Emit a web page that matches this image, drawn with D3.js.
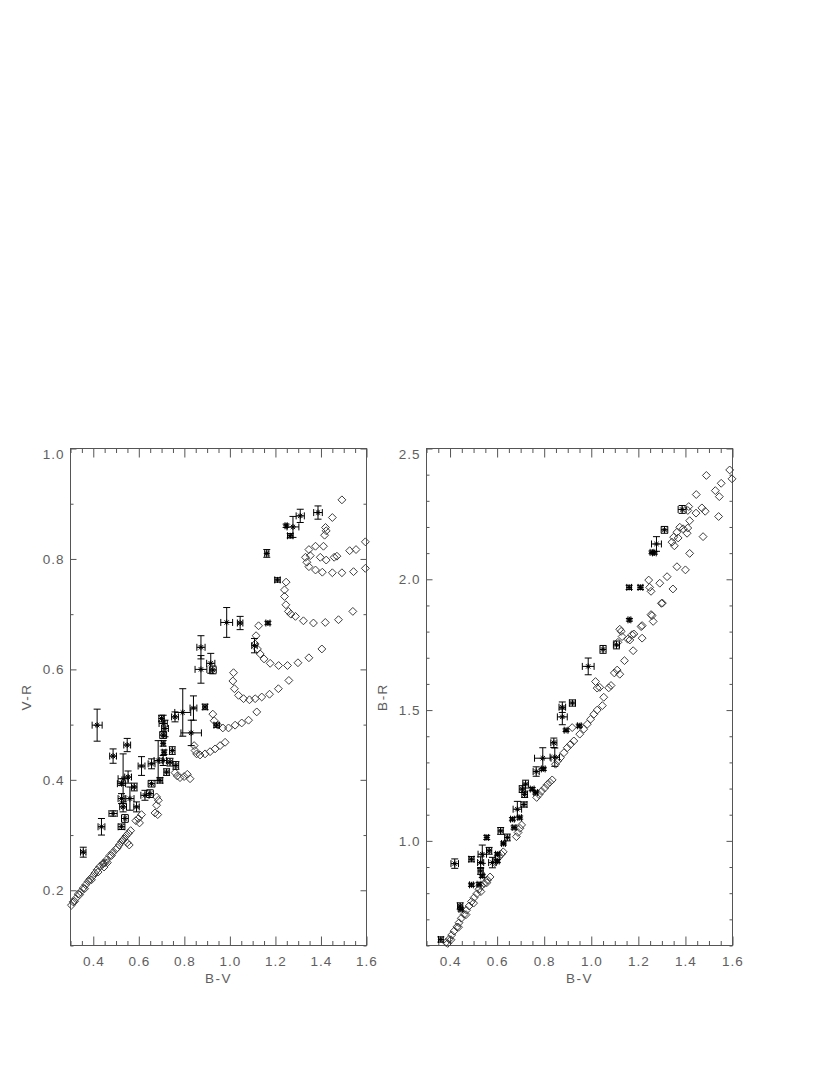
<!DOCTYPE html>
<html>
<head>
<meta charset="utf-8">
<script src="https://cdn.jsdelivr.net/npm/d3@7"></script>
<style>
  body { margin: 0; background: #fff; }
  svg { display: block; }
  text { font-family: "Liberation Sans", "DejaVu Sans", sans-serif; fill: #5e5e5e; }
</style>
</head>
<body>
<script>
// ---- left panel: V-R vs B-V ----
// model tracks (diamonds)
const leftModelBV = [
  0.304, 0.312, 0.323, 0.334, 0.344, 0.356, 0.367, 0.378, 0.385, 0.397, 0.407, 0.417, 0.429,
  0.444, 0.458, 0.473, 0.485, 0.499, 0.514, 0.524, 0.535, 0.543, 0.554, 0.564,
  0.318, 0.340, 0.362, 0.392, 0.421, 0.452, 0.480, 0.506, 0.530,
  0.441, 0.447, 0.462, 0.549, 0.558,
  0.587, 0.598, 0.612, 0.603,
  0.678, 0.686, 0.678, 0.671, 0.683,
  0.759, 0.769, 0.781, 0.799, 0.813, 0.825,
  0.843, 0.847, 0.854, 0.869, 0.891, 0.913, 0.935, 0.957, 0.979,
  0.925, 0.931, 0.947, 0.969, 0.994, 1.023, 1.052, 1.082, 1.118,
  1.016, 1.013, 1.020, 1.038, 1.060, 1.086, 1.111, 1.140, 1.174, 1.213, 1.259,
  1.126, 1.115, 1.111, 1.121, 1.133, 1.150, 1.177, 1.214, 1.253, 1.299, 1.347, 1.404,
  1.247, 1.240, 1.240, 1.246, 1.257, 1.268, 1.288, 1.323, 1.367, 1.419, 1.477, 1.540,
  1.492, 1.450, 1.420, 1.423, 1.416, 1.376, 1.411, 1.347, 1.332, 1.353, 1.338, 1.347,
  1.376, 1.406, 1.450, 1.492, 1.543, 1.595, 1.397, 1.423, 1.458, 1.470, 1.526, 1.554, 1.595
];
const leftModelVR = [
  0.173, 0.179, 0.185, 0.193, 0.197, 0.204, 0.210, 0.216, 0.220, 0.225, 0.231, 0.237, 0.243,
  0.249, 0.255, 0.263, 0.268, 0.274, 0.282, 0.288, 0.293, 0.298, 0.303, 0.308,
  0.180, 0.192, 0.203, 0.219, 0.233, 0.250, 0.263, 0.277, 0.291,
  0.247, 0.242, 0.250, 0.286, 0.282,
  0.326, 0.330, 0.337, 0.322,
  0.369, 0.363, 0.354, 0.340, 0.337,
  0.413, 0.407, 0.404, 0.406, 0.410, 0.402,
  0.462, 0.453, 0.447, 0.445, 0.447, 0.451, 0.456, 0.462, 0.468,
  0.519, 0.507, 0.499, 0.494, 0.494, 0.499, 0.503, 0.508, 0.523,
  0.594, 0.579, 0.565, 0.553, 0.547, 0.545, 0.547, 0.550, 0.555, 0.565, 0.580,
  0.679, 0.661, 0.646, 0.637, 0.628, 0.619, 0.611, 0.607, 0.607, 0.612, 0.621, 0.637,
  0.758, 0.744, 0.732, 0.717, 0.705, 0.700, 0.696, 0.688, 0.684, 0.685, 0.690, 0.705,
  0.907, 0.875, 0.857, 0.851, 0.843, 0.823, 0.823, 0.817, 0.803, 0.806, 0.794, 0.786,
  0.780, 0.776, 0.775, 0.775, 0.777, 0.783, 0.803, 0.798, 0.803, 0.805, 0.815, 0.817, 0.831
];
// observed stars with errors
const leftObsBV = [
  1.247, 1.277, 1.265, 1.309, 1.387, 1.162, 1.209, 1.167, 1.045, 0.986, 1.108, 0.873, 0.873, 0.916, 0.925,
  0.417, 0.487, 0.549, 0.531, 0.553, 0.524, 0.580, 0.524, 0.561, 0.590, 0.531, 0.487, 0.539, 0.524, 0.436,
  0.356, 0.612, 0.656, 0.685, 0.707, 0.737, 0.747, 0.763, 0.722, 0.693, 0.656, 0.627, 0.649, 0.707, 0.715,
  0.707, 0.707, 0.711, 0.700, 0.759, 0.793, 0.840, 0.830, 0.891, 0.942
];
const leftObsVR = [
  0.860, 0.858, 0.842, 0.878, 0.884, 0.810, 0.762, 0.684, 0.684, 0.685, 0.643, 0.640, 0.600, 0.611, 0.599,
  0.499, 0.443, 0.463, 0.402, 0.405, 0.393, 0.387, 0.366, 0.366, 0.351, 0.351, 0.339, 0.330, 0.315, 0.315,
  0.269, 0.425, 0.429, 0.435, 0.435, 0.432, 0.453, 0.426, 0.414, 0.399, 0.393, 0.372, 0.375, 0.502, 0.493,
  0.481, 0.466, 0.450, 0.511, 0.514, 0.522, 0.530, 0.485, 0.532, 0.499
];
const leftObsBVErr = [
  0.005, 0.026, 0.012, 0.018, 0.019, 0.009, 0.012, 0.009, 0.012, 0.026, 0.012, 0.018, 0.026, 0.018, 0.015,
  0.022, 0.015, 0.015, 0.022, 0.015, 0.018, 0.012, 0.015, 0.018, 0.012, 0.015, 0.018, 0.015, 0.015, 0.015,
  0.012, 0.015, 0.015, 0.018, 0.015, 0.012, 0.012, 0.012, 0.012, 0.012, 0.015, 0.018, 0.015, 0.018, 0.015,
  0.015, 0.008, 0.008, 0.012, 0.015, 0.035, 0.015, 0.045, 0.010, 0.012
];
const leftObsVRErr = [
  0.003, 0.019, 0.004, 0.012, 0.012, 0.007, 0.004, 0.003, 0.012, 0.027, 0.013, 0.021, 0.025, 0.018, 0.007,
  0.029, 0.013, 0.012, 0.045, 0.011, 0.003, 0.007, 0.009, 0.021, 0.009, 0.009, 0.005, 0.007, 0.005, 0.015,
  0.009, 0.017, 0.009, 0.036, 0.009, 0.007, 0.007, 0.007, 0.006, 0.005, 0.006, 0.009, 0.007, 0.015, 0.015,
  0.006, 0.005, 0.004, 0.006, 0.009, 0.043, 0.022, 0.023, 0.005, 0.004
];

// ---- right panel: B-R vs B-V ----
const rightModelBV = [
  0.383, 0.390, 0.396, 0.407, 0.417, 0.429, 0.438, 0.448, 0.460, 0.470, 0.481, 0.491, 0.502, 0.514,
  0.523, 0.533, 0.545, 0.559, 0.570, 0.404, 0.436, 0.468, 0.500, 0.531, 0.556,
  0.590, 0.598, 0.608, 0.618, 0.626, 0.682, 0.689, 0.697, 0.704,
  0.768, 0.778, 0.789, 0.802, 0.813, 0.824, 0.834,
  0.848, 0.858, 0.869, 0.884, 0.898, 0.912, 0.926, 0.919, 0.951, 0.968, 0.983, 0.997, 1.011, 1.025,
  1.047, 1.053, 1.074, 1.084, 1.018, 1.025, 1.036, 1.098, 1.110, 1.121, 1.141, 1.178,
  1.121, 1.131, 1.155, 1.181, 1.216, 1.216, 1.254, 1.263, 1.302,
  1.212, 1.173, 1.164, 1.127, 1.113, 1.244, 1.248, 1.254, 1.258, 1.291, 1.298, 1.322, 1.347,
  1.364, 1.400, 1.418, 1.343, 1.353, 1.350, 1.369, 1.364, 1.376, 1.390, 1.407, 1.410, 1.418,
  1.410, 1.414, 1.445, 1.446, 1.470, 1.484, 1.475, 1.541, 1.527, 1.544, 1.552, 1.489, 1.588, 1.598
];
const rightModelBR = [
  0.612, 0.608, 0.624, 0.640, 0.655, 0.671, 0.687, 0.704, 0.719, 0.735, 0.751, 0.768, 0.783, 0.798,
  0.815, 0.828, 0.837, 0.850, 0.862, 0.622, 0.670, 0.718, 0.762, 0.806, 0.840,
  0.917, 0.930, 0.939, 0.949, 0.958, 1.016, 1.032, 1.048, 1.061,
  1.166, 1.177, 1.190, 1.202, 1.215, 1.224, 1.233,
  1.293, 1.306, 1.318, 1.337, 1.356, 1.369, 1.382, 1.433, 1.408, 1.427, 1.446, 1.465, 1.484, 1.500,
  1.517, 1.549, 1.585, 1.594, 1.609, 1.584, 1.587, 1.642, 1.653, 1.637, 1.689, 1.727,
  1.809, 1.781, 1.771, 1.791, 1.775, 1.823, 1.865, 1.839, 1.909,
  1.819, 1.788, 1.768, 1.801, 1.759, 1.997, 1.969, 1.954, 1.861, 1.985, 1.908, 2.010, 1.963,
  2.048, 2.036, 2.099, 2.142, 2.128, 2.161, 2.158, 2.180, 2.199, 2.193, 2.176, 2.196, 2.224,
  2.263, 2.278, 2.253, 2.324, 2.273, 2.260, 2.163, 2.240, 2.339, 2.316, 2.367, 2.397, 2.418, 2.384
];
const rightObsBV = [
  1.386, 1.311, 1.277, 1.258, 1.268, 1.161, 1.209, 1.162, 1.050, 1.107, 0.987, 0.877, 0.877, 0.920, 0.893,
  0.949, 0.841, 0.794, 0.845, 0.766, 0.796, 0.707, 0.721, 0.717, 0.749, 0.764, 0.686, 0.714, 0.665, 0.696,
  0.615, 0.643, 0.672, 0.556, 0.627, 0.601, 0.601, 0.491, 0.420, 0.537, 0.530, 0.566, 0.580, 0.530, 0.537,
  0.491, 0.523, 0.443, 0.446, 0.361
];
const rightObsBR = [
  2.267, 2.189, 2.135, 2.103, 2.101, 1.969, 1.969, 1.845, 1.732, 1.749, 1.667, 1.511, 1.474, 1.527, 1.423,
  1.440, 1.375, 1.316, 1.320, 1.265, 1.275, 1.198, 1.217, 1.178, 1.198, 1.185, 1.121, 1.139, 1.083, 1.089,
  1.038, 1.013, 1.051, 1.013, 0.990, 0.949, 0.923, 0.930, 0.913, 0.949, 0.917, 0.962, 0.917, 0.885, 0.866,
  0.832, 0.834, 0.751, 0.738, 0.623
];
const rightObsBVErr = [
  0.017, 0.014, 0.021, 0.008, 0.008, 0.010, 0.010, 0.006, 0.013, 0.013, 0.025, 0.014, 0.021, 0.013, 0.008,
  0.008, 0.013, 0.035, 0.020, 0.013, 0.008, 0.013, 0.012, 0.012, 0.008, 0.008, 0.018, 0.013, 0.008, 0.008,
  0.011, 0.011, 0.008, 0.008, 0.008, 0.008, 0.008, 0.011, 0.016, 0.018, 0.013, 0.011, 0.016, 0.011, 0.008,
  0.008, 0.008, 0.011, 0.008, 0.010
];
const rightObsBRErr = [
  0.015, 0.013, 0.028, 0.005, 0.005, 0.008, 0.008, 0.005, 0.015, 0.015, 0.032, 0.020, 0.030, 0.012, 0.005,
  0.006, 0.018, 0.040, 0.035, 0.018, 0.006, 0.013, 0.015, 0.012, 0.006, 0.006, 0.030, 0.010, 0.006, 0.006,
  0.013, 0.013, 0.006, 0.008, 0.006, 0.006, 0.006, 0.010, 0.018, 0.035, 0.022, 0.013, 0.020, 0.013, 0.006,
  0.006, 0.006, 0.012, 0.006, 0.010
];

// ---- axes ----
const bvMajorTicks = [0.4, 0.6, 0.8, 1.0, 1.2, 1.4, 1.6];
const bvMinorTicks = [0.3, 0.35, 0.45, 0.5, 0.55, 0.65, 0.7, 0.75, 0.85, 0.9, 0.95, 1.05, 1.1, 1.15,
  1.25, 1.3, 1.35, 1.45, 1.5, 1.55];
const vrMajorTicks = [0.2, 0.4, 0.6, 0.8, 1.0];
const vrMinorTicks = [0.1, 0.3, 0.5, 0.7, 0.9];
const brMajorTicks = [1.0, 1.5, 2.0, 2.5];
const brMinorTicks = [0.6, 0.7, 0.8, 0.9, 1.1, 1.2, 1.3, 1.4, 1.6, 1.7, 1.8, 1.9, 2.1, 2.2, 2.3, 2.4];

const width = 830;
const height = 1075;

const svg = d3
  .select("body")
  .append("svg")
  .attr("width", width)
  .attr("height", height);

const fmt = d3.format(".1f");
const axisColor = "#555";

function drawPanel(p) {
  const x = d3.scaleLinear().domain([0.3, 1.6]).range([p.left, p.right]);
  const y = d3.scaleLinear().domain(p.yDomain).range([p.bottom, p.top]);
  const g = svg.append("g");

  // axes, ticks pointing inward on all four sides
  const addAxis = (axis, transform, labels) => {
    const a = g.append("g").attr("transform", transform).call(axis);
    a.select(".domain").remove();
    a.selectAll("line").attr("stroke", axisColor);
    if (!labels) a.selectAll("text").remove();
    else
      a.selectAll("text")
        .attr("font-size", "13.5px")
        .attr("letter-spacing", "1px")
        .attr("fill", "#5e5e5e");
    return a;
  };

  addAxis(d3.axisBottom(x).tickValues(bvMajorTicks).tickFormat(fmt).tickSize(-9).tickPadding(11),
    `translate(0,${p.bottom})`, true);
  addAxis(d3.axisBottom(x).tickValues(bvMinorTicks).tickFormat("").tickSize(-4.5),
    `translate(0,${p.bottom})`, false);
  addAxis(d3.axisTop(x).tickValues(bvMajorTicks).tickFormat("").tickSize(-9),
    `translate(0,${p.top})`, false);
  addAxis(d3.axisTop(x).tickValues(bvMinorTicks).tickFormat("").tickSize(-4.5),
    `translate(0,${p.top})`, false);
  const yAx = addAxis(d3.axisLeft(y).tickValues(p.yMajor).tickFormat(fmt).tickSize(-6).tickPadding(6),
    `translate(${p.left},0)`, true);
  // the top label sits just below the frame corner
  yAx.selectAll("text").filter((d) => d === p.yDomain[1]).attr("dy", "0.75em");
  addAxis(d3.axisLeft(y).tickValues(p.yMinor).tickFormat("").tickSize(-3),
    `translate(${p.left},0)`, false);
  addAxis(d3.axisRight(y).tickValues(p.yMajor).tickFormat("").tickSize(-6),
    `translate(${p.right},0)`, false);
  addAxis(d3.axisRight(y).tickValues(p.yMinor).tickFormat("").tickSize(-3),
    `translate(${p.right},0)`, false);

  g.append("rect")
    .attr("x", p.left)
    .attr("y", p.top)
    .attr("width", p.right - p.left)
    .attr("height", p.bottom - p.top)
    .attr("fill", "none")
    .attr("stroke", axisColor);

  // axis titles
  g.append("text")
    .attr("x", (p.left + p.right) / 2)
    .attr("y", p.bottom + 37)
    .attr("text-anchor", "middle")
    .attr("font-size", "13.5px")
    .attr("letter-spacing", "1.5px")
    .text("B-V");

  g.append("text")
    .attr("transform", `translate(${p.left - 40},${(p.top + p.bottom) / 2}) rotate(-90)`)
    .attr("text-anchor", "middle")
    .attr("font-size", "13.5px")
    .attr("letter-spacing", "1.5px")
    .text(p.yTitle);

  // models: open diamonds
  const diamond = d3.symbol(d3.symbolSquare, 31);
  g.append("g")
    .selectAll("path")
    .data(p.modelX.map((d, i) => [d, p.modelY[i]]))
    .join("path")
    .attr("d", diamond)
    .attr("transform", (d) => `translate(${x(d[0])},${y(d[1])}) rotate(45)`)
    .attr("fill", "none")
    .attr("stroke", "#333")
    .attr("stroke-width", 0.9);

  // observations: asterisk + error bars with caps
  const obs = p.obsX.map((d, i) => ({
    x: d,
    y: p.obsY[i],
    ex: p.obsXErr[i],
    ey: p.obsYErr[i],
  }));
  const cap = 3.5;
  const r = 3;
  const pts = g.append("g").attr("stroke", "#000").attr("stroke-width", 1).attr("fill", "none");
  pts
    .selectAll("path")
    .data(obs)
    .join("path")
    .attr("d", (d) => {
      const cx = x(d.x), cy = y(d.y);
      const xl = x(d.x - d.ex), xr = x(d.x + d.ex);
      const yt = y(d.y + d.ey), yb = y(d.y - d.ey);
      const k = r * 0.72;
      return (
        `M${xl},${cy}H${xr}` +
        `M${xl},${cy - cap}V${cy + cap}M${xr},${cy - cap}V${cy + cap}` +
        `M${cx},${yt}V${yb}` +
        `M${cx - cap},${yt}H${cx + cap}M${cx - cap},${yb}H${cx + cap}` +
        `M${cx - r},${cy}H${cx + r}M${cx},${cy - r}V${cy + r}` +
        `M${cx - k},${cy - k}L${cx + k},${cy + k}M${cx - k},${cy + k}L${cx + k},${cy - k}`
      );
    });
}

drawPanel({
  left: 70.5, right: 366.5, top: 448.5, bottom: 945.5,
  yDomain: [0.1, 1.0], yMajor: vrMajorTicks, yMinor: vrMinorTicks, yTitle: "V-R",
  modelX: leftModelBV, modelY: leftModelVR,
  obsX: leftObsBV, obsY: leftObsVR, obsXErr: leftObsBVErr, obsYErr: leftObsVRErr,
});

drawPanel({
  left: 426.5, right: 732.5, top: 448.5, bottom: 945.5,
  yDomain: [0.6, 2.5], yMajor: brMajorTicks, yMinor: brMinorTicks, yTitle: "B-R",
  modelX: rightModelBV, modelY: rightModelBR,
  obsX: rightObsBV, obsY: rightObsBR, obsXErr: rightObsBVErr, obsYErr: rightObsBRErr,
});
</script>
</body>
</html>
